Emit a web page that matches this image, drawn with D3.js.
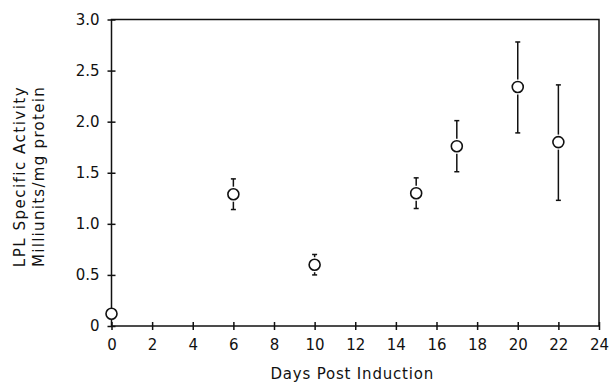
<!DOCTYPE html>
<html>
<head>
<meta charset="utf-8">
<script src="https://cdn.jsdelivr.net/npm/d3@7"></script>
<style>
  body { margin: 0; background: #fff; }
  svg text { font-family: "DejaVu Sans", sans-serif; fill: #111; }
</style>
</head>
<body>
<figure id="lpl-activity" style="margin:0"></figure>
<script>
// data
const days = [0, 6, 10, 15, 17, 20, 22];
const activity = [0.12, 1.29, 0.60, 1.30, 1.76, 2.34, 1.80];
const errLow = [0.12, 1.14, 0.50, 1.15, 1.51, 1.89, 1.23];
const errHigh = [0.12, 1.44, 0.70, 1.45, 2.01, 2.78, 2.36];
const xTicks = [0, 2, 4, 6, 8, 10, 12, 14, 16, 18, 20, 22, 24];
const yTicks = [0, 0.5, 1.0, 1.5, 2.0, 2.5, 3.0];

const W = 610, H = 384;
const margin = { top: 19.5, right: 11, bottom: 58, left: 111.5 };
const width = W - margin.left - margin.right;
const height = H - margin.top - margin.bottom;

const svg = d3.select("figure#lpl-activity")
  .append("svg")
  .attr("width", W)
  .attr("height", H)
  .append("g")
  .attr("transform", `translate(${margin.left},${margin.top})`);

const x = d3.scaleLinear().domain([0, 24]).range([0, width]);
const y = d3.scaleLinear().domain([0, 3]).range([height, 0]);

// frame
svg.append("rect")
  .attr("width", width)
  .attr("height", height)
  .attr("fill", "none")
  .attr("stroke", "#111")
  .attr("stroke-width", 1.5);

// X axis, ticks crossing the line
const xAxis = svg.append("g")
  .attr("transform", `translate(0,${height})`)
  .call(d3.axisBottom(x).tickValues(xTicks).tickSize(0).tickPadding(13).tickFormat(d3.format("d")));
xAxis.select(".domain").remove();
xAxis.selectAll(".tick").append("line")
  .attr("y1", -4).attr("y2", 4)
  .attr("stroke", "#111").attr("stroke-width", 1.5);
xAxis.selectAll("text").style("font-size", "15px").attr("fill", "#111");

// Y axis
const yAxis = svg.append("g")
  .call(d3.axisLeft(y).tickValues(yTicks).tickSize(0).tickPadding(12)
    .tickFormat(d => d === 0 ? "0" : d3.format(".1f")(d)));
yAxis.select(".domain").remove();
yAxis.selectAll(".tick").append("line")
  .attr("x1", -4).attr("x2", 4)
  .attr("stroke", "#111").attr("stroke-width", 1.5);
yAxis.selectAll("text").style("font-size", "15px").attr("fill", "#111");

const pts = days.map((d, i) => ({ day: d, v: activity[i], lo: errLow[i], hi: errHigh[i] }));
const r = 5.5;

// error bars (gap around the circle)
const eb = svg.append("g").attr("stroke", "#111").attr("stroke-width", 1.5);
pts.filter(p => p.hi > p.lo).forEach(p => {
  const cx = x(p.day);
  eb.append("line").attr("x1", cx).attr("x2", cx)
    .attr("y1", y(p.hi)).attr("y2", y(p.v) - r - 2);
  eb.append("line").attr("x1", cx).attr("x2", cx)
    .attr("y1", y(p.v) + r + 2).attr("y2", y(p.lo));
  [p.hi, p.lo].forEach(e => {
    eb.append("line").attr("x1", cx - 2.5).attr("x2", cx + 2.5)
      .attr("y1", y(e)).attr("y2", y(e));
  });
});

// points
svg.selectAll("circle.pt")
  .data(pts)
  .join("circle")
  .attr("class", "pt")
  .attr("cx", d => x(d.day))
  .attr("cy", d => y(d.v))
  .attr("r", r)
  .attr("fill", "#fff")
  .attr("stroke", "#111")
  .attr("stroke-width", 1.6);

// X title
svg.append("text")
  .attr("text-anchor", "middle")
  .attr("x", width / 2 - 3)
  .attr("y", height + 53)
  .style("font-size", "15px")
  .style("letter-spacing", "0.8px")
  .text("Days Post Induction");

// Y title, two lines
svg.append("text")
  .attr("text-anchor", "middle")
  .attr("transform", "rotate(-90)")
  .attr("x", -(176.5 - margin.top))
  .attr("y", 24.5 - margin.left)
  .style("font-size", "15px")
  .style("letter-spacing", "1.5px")
  .text("LPL Specific Activity");
svg.append("text")
  .attr("text-anchor", "middle")
  .attr("transform", "rotate(-90)")
  .attr("x", -(176.5 - margin.top))
  .attr("y", 43.5 - margin.left)
  .style("font-size", "15px")
  .style("letter-spacing", "1.3px")
  .text("Milliunits/mg protein");
</script>
</body>
</html>
